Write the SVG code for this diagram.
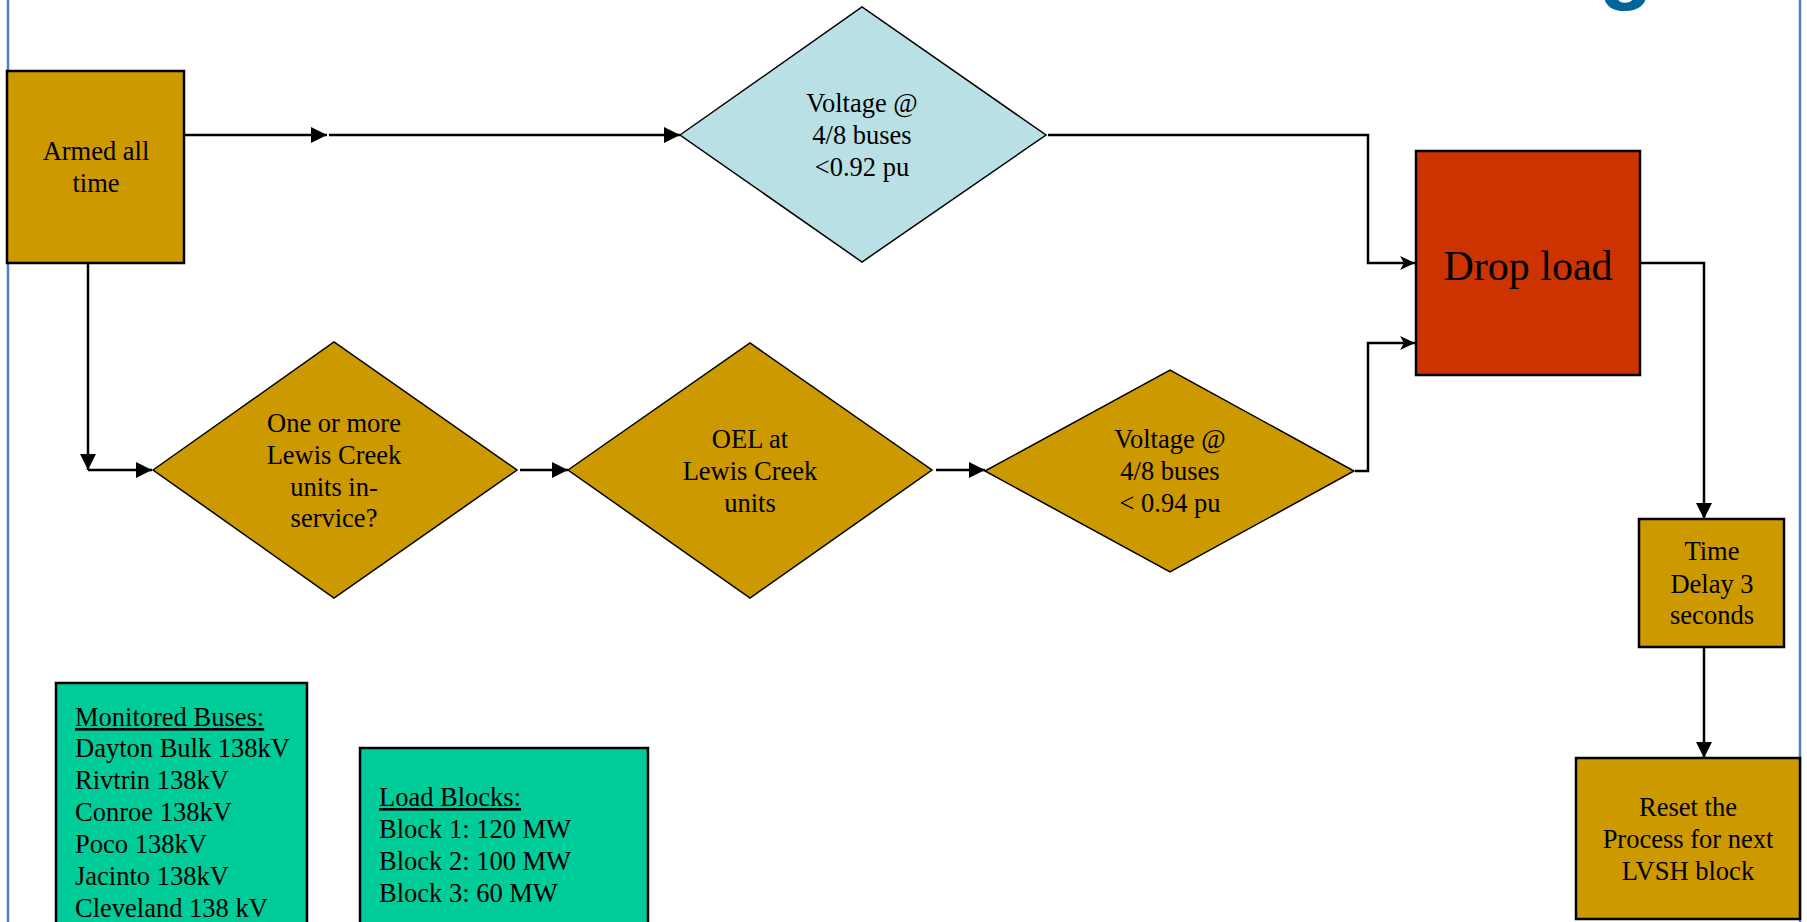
<svg xmlns="http://www.w3.org/2000/svg" width="1807" height="922" viewBox="0 0 1807 922">
<style>
.t{font-family:"Liberation Serif","Times New Roman",serif;font-size:26.5px;fill:#000;text-anchor:middle}
.l{font-family:"Liberation Serif","Times New Roman",serif;font-size:26.5px;fill:#000}
.box{stroke:#000;stroke-width:2.5}
.dia{stroke:#000;stroke-width:1.5}
.gold{fill:#CC9900}
.teal{fill:#00CC99}
.con{fill:none;stroke:#000;stroke-width:2.5}
.border{stroke:#4F81BD;stroke-width:2.5}
</style>
<defs>
<marker id="tri" markerUnits="userSpaceOnUse" markerWidth="17" markerHeight="17" refX="16" refY="8" orient="auto">
<path d="M0,0 L16,8 L0,16 z" fill="#000"/>
</marker>
<marker id="stealth" markerUnits="userSpaceOnUse" markerWidth="16" markerHeight="16" refX="15" refY="7" orient="auto">
<path d="M0,0 L15,7 L0,14 L4,7 z" fill="#000"/>
</marker>
</defs>
<rect width="1807" height="922" fill="#fff"/>
<line class="border" x1="8" y1="0" x2="8" y2="922"/>
<line class="border" x1="1800" y1="0" x2="1800" y2="922"/>
<text x="1626" y="-8" font-family="Liberation Sans, Arial, sans-serif" font-size="90" font-weight="bold" fill="#006699" text-anchor="middle">g</text>

<g id="connectors">
<line class="con" x1="184" y1="135" x2="327" y2="135" marker-end="url(#tri)"/>
<line class="con" x1="329" y1="135" x2="680" y2="135" marker-end="url(#tri)"/>
<path class="con" d="M1048,135 H1368 V263 H1415" marker-end="url(#stealth)"/>
<line class="con" x1="88" y1="263" x2="88" y2="470" marker-end="url(#tri)"/>
<line class="con" x1="88" y1="470" x2="152" y2="470" marker-end="url(#tri)"/>
<line class="con" x1="520" y1="470" x2="568" y2="470" marker-end="url(#tri)"/>
<line class="con" x1="936" y1="470" x2="985" y2="470" marker-end="url(#tri)"/>
<path class="con" d="M1355,471 H1368 V343 H1415" marker-end="url(#stealth)"/>
<path class="con" d="M1640,263 H1704 V519" marker-end="url(#tri)"/>
<line class="con" x1="1704" y1="647" x2="1704" y2="758" marker-end="url(#tri)"/>
</g>

<g id="armed">
<rect class="box gold" x="7" y="71" width="177" height="192"/>
<text class="t" x="96" y="160">Armed all</text>
<text class="t" x="96" y="192">time</text>
</g>

<g id="voltage-092">
<polygon class="dia" fill="#B9E0E5" points="680,135 862,7 1046,135 862,262"/>
<text class="t" x="862" y="112">Voltage @</text>
<text class="t" x="862" y="144">4/8 buses</text>
<text class="t" x="862" y="176">&lt;0.92 pu</text>
</g>

<g id="drop-load">
<rect class="box" fill="#CC3300" x="1416" y="151" width="224" height="224"/>
<text class="t" x="1528" y="280" style="font-size:42px">Drop load</text>
</g>

<g id="lewis-inservice">
<polygon class="dia gold" points="153,470 334,342 517,470 334,598"/>
<text class="t" x="334" y="432">One or more</text>
<text class="t" x="334" y="464">Lewis Creek</text>
<text class="t" x="334" y="496">units in-</text>
<text class="t" x="334" y="527">service?</text>
</g>

<g id="oel">
<polygon class="dia gold" points="568,470 750,343 932,470 750,598"/>
<text class="t" x="750" y="448">OEL at</text>
<text class="t" x="750" y="480">Lewis Creek</text>
<text class="t" x="750" y="512">units</text>
</g>

<g id="voltage-094">
<polygon class="dia gold" points="985,471 1170,370 1354,471 1170,572"/>
<text class="t" x="1170" y="448">Voltage @</text>
<text class="t" x="1170" y="480">4/8 buses</text>
<text class="t" x="1170" y="512">&lt; 0.94 pu</text>
</g>

<g id="time-delay">
<rect class="box gold" x="1639" y="519" width="145" height="128"/>
<text class="t" x="1712" y="560">Time</text>
<text class="t" x="1712" y="593">Delay 3</text>
<text class="t" x="1712" y="624">seconds</text>
</g>

<g id="reset">
<rect class="box gold" x="1576" y="758" width="224" height="161"/>
<text class="t" x="1688" y="816">Reset the</text>
<text class="t" x="1688" y="848">Process for next</text>
<text class="t" x="1688" y="880">LVSH block</text>
</g>

<g id="monitored-buses">
<rect class="box teal" x="56" y="683" width="251" height="250"/>
<text class="l" x="75" y="726" text-decoration="underline">Monitored Buses:</text>
<text class="l" x="75" y="757">Dayton Bulk 138kV</text>
<text class="l" x="75" y="789">Rivtrin 138kV</text>
<text class="l" x="75" y="821">Conroe 138kV</text>
<text class="l" x="75" y="853">Poco 138kV</text>
<text class="l" x="75" y="885">Jacinto 138kV</text>
<text class="l" x="75" y="917">Cleveland 138 kV</text>
</g>

<g id="load-blocks">
<rect class="box teal" x="360" y="748" width="288" height="190"/>
<text class="l" x="379" y="806" text-decoration="underline">Load Blocks:</text>
<text class="l" x="379" y="838">Block 1: 120 MW</text>
<text class="l" x="379" y="870">Block 2: 100 MW</text>
<text class="l" x="379" y="902">Block 3: 60 MW</text>
</g>
</svg>
